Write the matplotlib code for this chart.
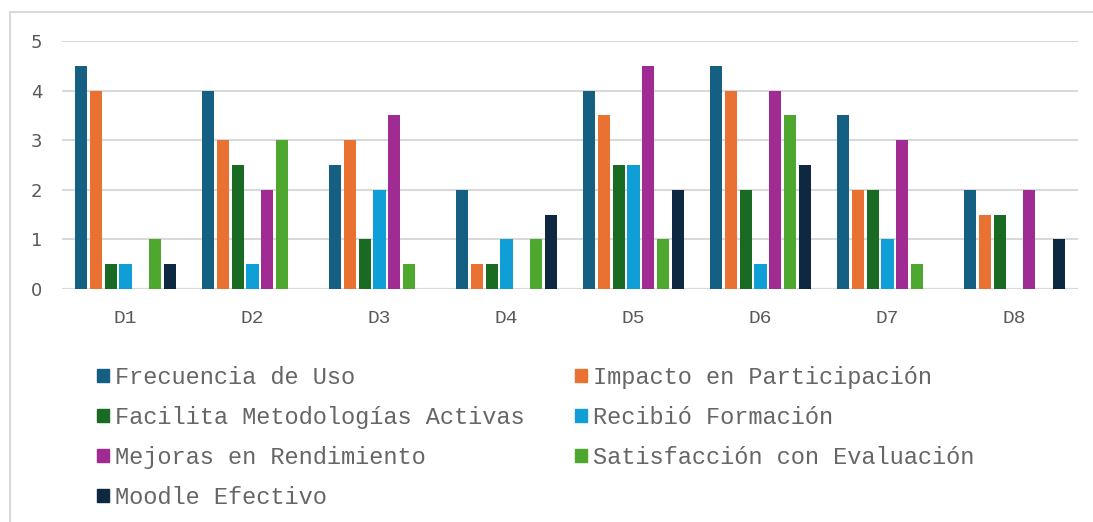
import numpy as np
import matplotlib.pyplot as plt
from matplotlib.lines import Line2D
from matplotlib.patches import Patch

groups = ["D1", "D2", "D3", "D4", "D5", "D6", "D7", "D8"]
series = [
    "Frecuencia de Uso",
    "Impacto en Participación",
    "Facilita Metodologías Activas",
    "Recibió Formación",
    "Mejoras en Rendimiento",
    "Satisfacción con Evaluación",
    "Moodle Efectivo",
]
frecuencia = [4.5, 4, 2.5, 2, 4, 4.5, 3.5, 2]
impacto = [4, 3, 3, 0.5, 3.5, 4, 2, 1.5]
facilita = [0.5, 2.5, 1, 0.5, 2.5, 2, 2, 1.5]
recibio = [0.5, 0.5, 2, 1, 2.5, 0.5, 1, 0]
mejoras = [0, 2, 3.5, 0, 4.5, 4, 3, 2]
satisfaccion = [1, 3, 0.5, 1, 1, 3.5, 0.5, 0]
moodle = [0.5, 0, 0, 1.5, 2, 2.5, 0, 1]
values = [frecuencia, impacto, facilita, recibio, mejoras, satisfaccion, moodle]
colors = ["#156082", "#E97132", "#196B24", "#0F9ED5", "#A02B93", "#4EA72E", "#0E2841"]

fig = plt.figure(figsize=(10.93, 5.22), dpi=100)
ax = fig.add_axes([62 / 1093, 1 - 289 / 522, 1016 / 1093, 248 / 522])

x = np.arange(len(groups))
step = 0.118
width = 0.0945
for i, (vals, c) in enumerate(zip(values, colors)):
    ax.bar(x + (i - 3) * step, vals, width, color=c, label=series[i], zorder=3)

ax.set_xlim(-0.5, len(groups) - 0.5)
ax.set_ylim(0, 5)
ax.set_yticks(range(6))
ax.grid(axis="y", color="#D9D9D9", lw=1.5, zorder=0)
ax.axhline(0, color="#D9D9D9", lw=1.5, zorder=2)
for s in ax.spines.values():
    s.set_visible(False)
ax.tick_params(length=0)
ax.tick_params(axis="y", pad=14, labelsize=13, labelcolor="#595959")
ax.set_xticks(x)
ax.set_xticklabels(groups, family="Liberation Mono", fontsize=14, color="#595959")
ax.tick_params(axis="x", pad=15)

# legend laid out row by row
order = [0, 2, 4, 6, 1, 3, 5]
handles = [Patch(color=colors[i]) for i in order]
labels = [series[i] for i in order]
fig.legend(handles, labels, ncol=2, loc="upper left", bbox_to_anchor=(97 / 1093, 1 - 366 / 522),
           frameon=False, prop={"family": "Liberation Mono", "size": 17},
           labelcolor="#666666", handlelength=0.5, handleheight=0.5, handletextpad=0.25,
           labelspacing=0.72, columnspacing=2.15, borderaxespad=0, borderpad=0)

# outer frame (left and top)
fig.add_artist(Line2D([9.5 / 1093, 9.5 / 1093], [0, 1 - 12 / 522], color="#D9D9D9", lw=1.5))
fig.add_artist(Line2D([9.5 / 1093, 1], [1 - 12 / 522, 1 - 12 / 522], color="#D9D9D9", lw=1.5))

fig.savefig("out.png", dpi=100)
